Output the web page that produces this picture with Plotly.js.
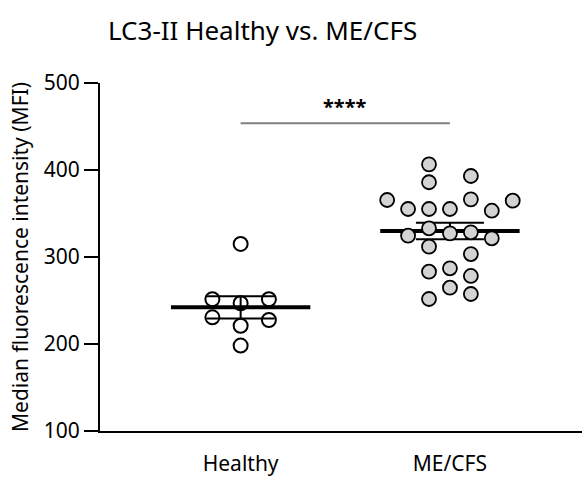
<!DOCTYPE html>
<html>
<head>
<meta charset="utf-8">
<script src="https://cdn.plot.ly/plotly-3.0.1.min.js"></script>
<style>html,body{margin:0;padding:0;background:#fff;}#chart{width:582px;height:477px;}</style>
</head>
<body>
<div id="chart"></div>
<script>
// Categories
const categories = ["Healthy", "ME/CFS"];
const categoryPos = [1, 2];

// Healthy group: values and column index in the scatter
const healthyValues = [315, 251.4, 251.4, 246.8, 230.7, 221, 227.6, 198.2];
const healthyCols   = [0, -1, 1, 0, -1, 0, 1, 0];

// ME/CFS group: values and column index in the scatter
const mecfsValues = [406.5, 385.9, 393.1, 365.5, 366.3, 364.7, 355.2, 355.2, 355.2, 353.2,
                     333, 324.5, 327.2, 328.4, 321.5, 311.9, 303.4, 283.1, 287, 278.2,
                     264.7, 257.5, 251.7];
const mecfsCols   = [-1, -1, 1, -3, 1, 3, -2, -1, 0, 2,
                     -1, -2, 0, 1, 2, -1, 1, -1, 0, 1,
                     0, 1, -1];

// Summary statistics (mean ± SEM)
const groupMeans = [242.2, 329.9];
const groupSEM   = [12.8, 9.4];

// Significance bar
const sigLevel = 453.7;
const sigLabel = "****";

// Axis ticks
const yTicks = [100, 200, 300, 400, 500];

const healthySpacing = 0.135;
const mecfsSpacing = 0.1;
const meanHalfWidth = 0.333;

const traces = [];

// Mean lines
categoryPos.forEach((c, i) => {
  traces.push({
    x: [c - meanHalfWidth, c + meanHalfWidth],
    y: [groupMeans[i], groupMeans[i]],
    mode: 'lines', type: 'scatter',
    line: {color: '#000', width: 4},
    hoverinfo: 'skip', showlegend: false
  });
});

// SEM error bars
traces.push({
  x: categoryPos, y: groupMeans, type: 'scatter', mode: 'markers',
  marker: {size: 1, color: 'rgba(0,0,0,0)'},
  error_y: {type: 'data', array: groupSEM, visible: true, color: '#000', thickness: 2, width: 34},
  hoverinfo: 'skip', showlegend: false
});

// Healthy points (open circles)
traces.push({
  x: healthyCols.map(c => categoryPos[0] + c * healthySpacing),
  y: healthyValues, type: 'scatter', mode: 'markers',
  marker: {symbol: 'circle-open', size: 14, color: '#000', line: {width: 2, color: '#000'}},
  showlegend: false
});

// ME/CFS points (grey filled)
traces.push({
  x: mecfsCols.map(c => categoryPos[1] + c * mecfsSpacing),
  y: mecfsValues, type: 'scatter', mode: 'markers',
  marker: {symbol: 'circle', size: 14, color: '#d3d3d3', line: {width: 1.8, color: '#000'}},
  showlegend: false
});

const fontFam = '"Noto Sans", "Source Sans Pro", sans-serif';

const layout = {
  width: 582, height: 477,
  margin: {l: 100, r: 0, t: 83, b: 46},
  paper_bgcolor: '#fff', plot_bgcolor: '#fff',
  font: {family: fontFam, size: 21, color: '#000'},
  title: {text: 'LC3-II Healthy vs. ME/CFS', xref: 'container', yref: 'container',
          x: 108/582, xanchor: 'left', y: 1 - 31/477, yanchor: 'middle',
          font: {family: fontFam, size: 26, color: '#000'}},
  xaxis: {
    range: [0.328, 2.631], tickvals: categoryPos, ticktext: categories,
    showgrid: false, zeroline: false, showline: true, linecolor: '#000', linewidth: 2,
    ticks: '', ticklabelstandoff: 13, tickfont: {size: 21}, fixedrange: true
  },
  yaxis: {
    range: [100, 500], tickvals: yTicks, showgrid: false, zeroline: false,
    showline: true, linecolor: '#000', linewidth: 2,
    ticks: 'outside', ticklen: 14, tickwidth: 2, tickcolor: '#000',
    tickfont: {size: 21},
    title: {text: 'Median fluorescence intensity (MFI)', font: {size: 21}, standoff: 9},
    fixedrange: true
  },
  shapes: [{type: 'line', xref: 'x', yref: 'y', x0: categoryPos[0], x1: categoryPos[1],
            y0: sigLevel, y1: sigLevel, line: {color: '#808080', width: 2}}],
  annotations: [{x: (categoryPos[0] + categoryPos[1]) / 2, y: sigLevel, xref: 'x', yref: 'y',
                 text: '<b>' + sigLabel + '</b>', showarrow: false, yanchor: 'bottom', yshift: 1,
                 font: {size: 20, color: '#000'}}]
};

Plotly.newPlot('chart', traces, layout, {displayModeBar: false, staticPlot: true});
</script>
</body>
</html>
